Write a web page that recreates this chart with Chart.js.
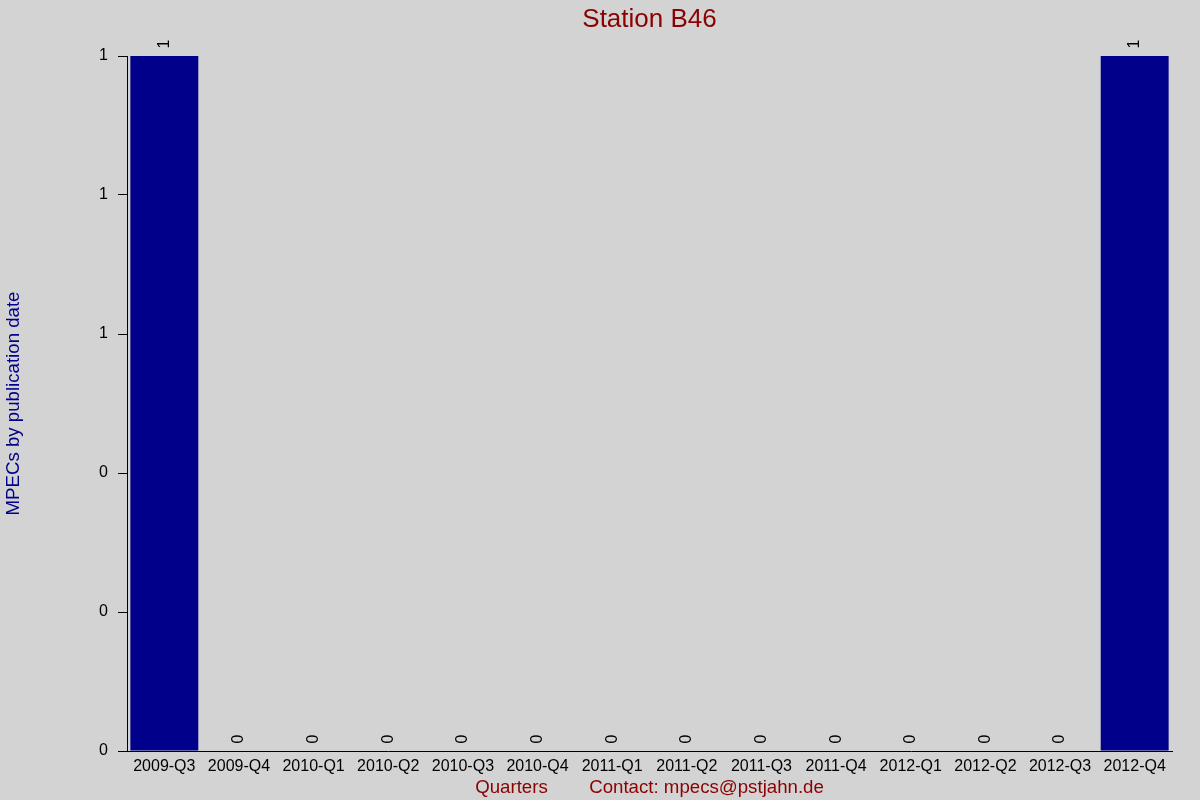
<!DOCTYPE html>
<html>
<head>
<meta charset="utf-8">
<script src="https://cdn.jsdelivr.net/npm/chart.js@4"></script>
<style>
html,body{margin:0;padding:0;background:#d3d3d3;}
#wrap{width:1200px;height:800px;}
</style>
</head>
<body>
<div id="wrap"><canvas id="c" width="1200" height="800"></canvas></div>
<script>
const categories = ["2009-Q3","2009-Q4","2010-Q1","2010-Q2","2010-Q3","2010-Q4","2011-Q1","2011-Q2","2011-Q3","2011-Q4","2012-Q1","2012-Q2","2012-Q3","2012-Q4"];
const mpecs = [1,0,0,0,0,0,0,0,0,0,0,0,0,1];
const yTickValues = [0,0.2,0.4,0.6,0.8,1];

const FONT = "'Liberation Sans', Arial, sans-serif";

const bgPlugin = {
  id: 'bg',
  beforeDraw(chart){
    const ctx = chart.ctx;
    ctx.save();
    ctx.fillStyle = '#d3d3d3';
    ctx.fillRect(0,0,chart.width,chart.height);
    ctx.restore();
  }
};

const valueLabels = {
  id: 'valueLabels',
  afterDatasetsDraw(chart){
    const ctx = chart.ctx;
    const meta = chart.getDatasetMeta(0);
    ctx.save();
    ctx.fillStyle = '#000000';
    ctx.font = '16px ' + FONT;
    ctx.textAlign = 'center';
    ctx.textBaseline = 'middle';
    meta.data.forEach((bar, i) => {
      ctx.save();
      ctx.translate(bar.x, bar.y - 12);
      ctx.rotate(-Math.PI/2);
      ctx.fillText(String(mpecs[i]), 0, 0);
      ctx.restore();
    });
    ctx.restore();
  }
};

new Chart(document.getElementById('c'), {
  type: 'bar',
  data: {
    labels: categories,
    datasets: [{
      data: mpecs,
      backgroundColor: '#00008b',
      borderWidth: 0,
      barPercentage: 0.91,
      categoryPercentage: 1.0
    }]
  },
  options: {
    responsive: false,
    animation: false,
    devicePixelRatio: 1,
    layout: { padding: { left: 0, right: 28, top: 0, bottom: 0 } },
    plugins: {
      legend: { display: false },
      tooltip: { enabled: false },
      title: {
        display: true,
        fullSize: false,
        text: 'Station B46',
        color: '#8b0000',
        font: { family: FONT, size: 26, weight: 'normal', lineHeight: 1.2 },
        padding: { top: 4.4, bottom: 20.4 }
      }
    },
    scales: {
      x: {
        grid: { display: false, drawTicks: false },
        border: { display: true, color: '#000000', width: 1 },
        ticks: {
          color: '#000000',
          font: { family: FONT, size: 16 },
          padding: 6,
          maxRotation: 0,
          autoSkip: false
        },
        title: {
          display: true,
          text: 'Quarters        Contact: mpecs@pstjahn.de',
          color: '#8b0000',
          font: { family: FONT, size: 18.67, lineHeight: 1.2 },
          padding: { top: 0, bottom: 1 }
        },
        afterFit(scale){ scale.height = 49; }
      },
      y: {
        min: 0,
        max: 1,
        afterBuildTicks(scale){ scale.ticks = yTickValues.map(v => ({ value: v })); },
        grid: { display: true, drawOnChartArea: false, drawTicks: true, tickLength: 9, color: '#000000' },
        border: { display: true, color: '#000000', width: 1 },
        ticks: {
          color: '#000000',
          font: { family: FONT, size: 16 },
          padding: 10,
          callback: (v) => String(Math.round(v))
        },
        title: {
          display: true,
          text: 'MPECs by publication date',
          color: '#00008b',
          font: { family: FONT, size: 18.67, lineHeight: 1.2 },
          padding: { top: 3, bottom: 0 }
        },
        afterFit(scale){ scale.width = 127; }
      }
    }
  },
  plugins: [bgPlugin, valueLabels]
});
</script>
</body>
</html>
